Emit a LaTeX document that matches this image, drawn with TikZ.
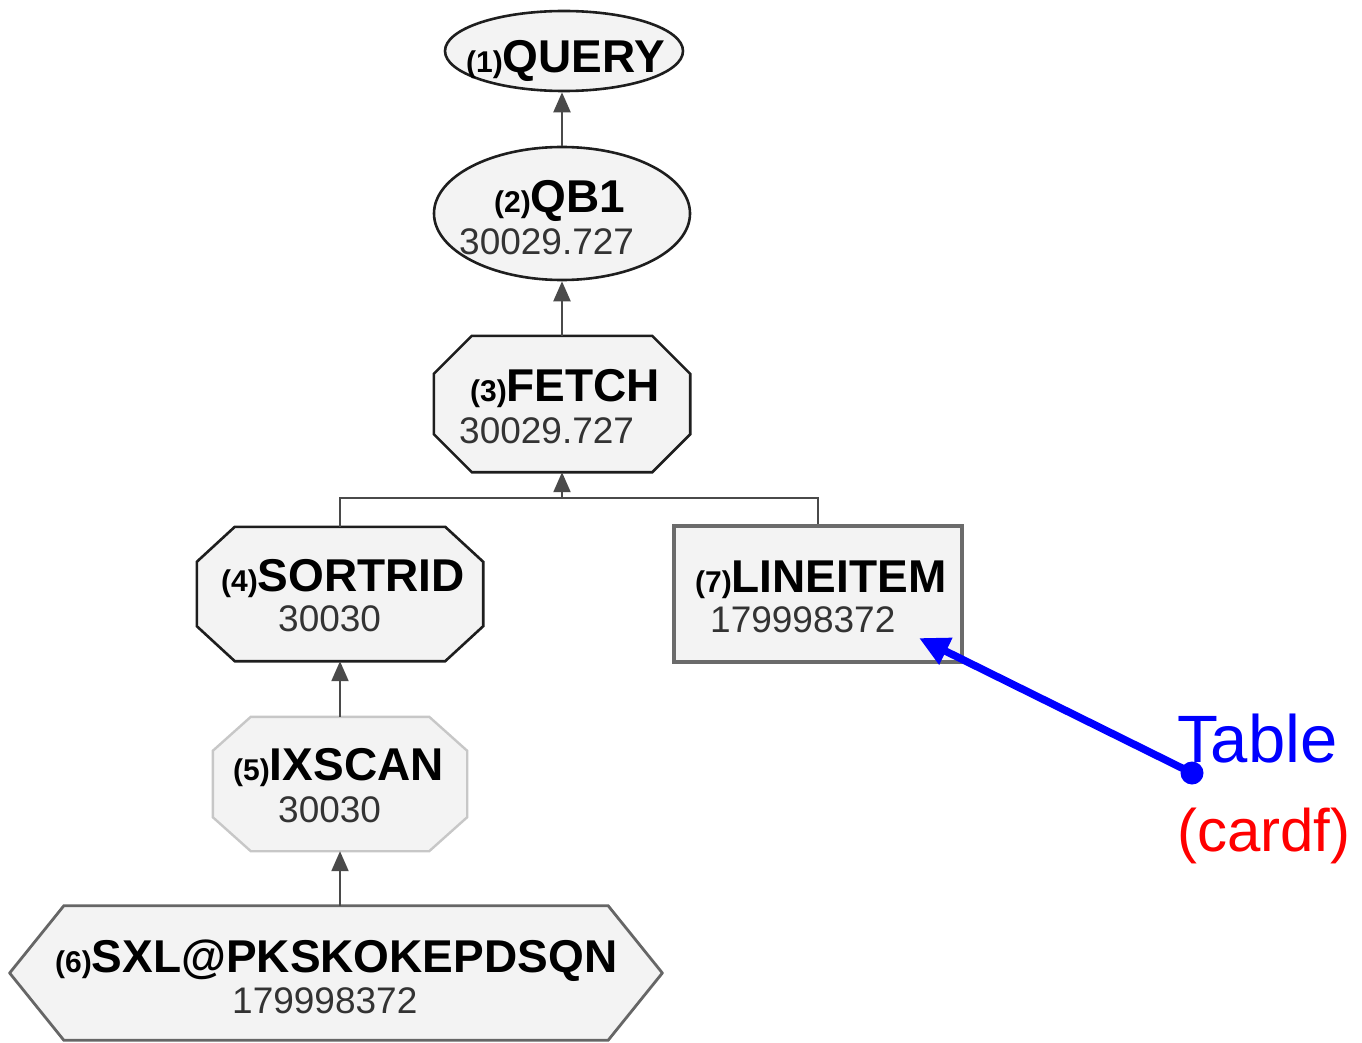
\documentclass[tikz,border=0pt]{standalone}
\usepackage{fontspec}
\setmainfont{Liberation Sans}
\usetikzlibrary{arrows.meta,calc,shapes.geometric}

\definecolor{boxfill}{HTML}{F3F3F3}
\definecolor{edge}{HTML}{4A4A4A}
\definecolor{outline}{HTML}{1E1E1E}
\definecolor{tblue}{HTML}{0000FF}
\definecolor{tred}{HTML}{FF0000}

% outline with cut corners around a named frame node: #1 node, #2 x-cut, #3 y-cut, #4 style
\newcommand\cutbox[4]{%
  \path[#4] ([xshift=#2]#1.north west) -- ([xshift=-#2]#1.north east)
    -- ([yshift=-#3]#1.north east) -- ([yshift=#3]#1.south east)
    -- ([xshift=-#2]#1.south east) -- ([xshift=#2]#1.south west)
    -- ([yshift=#3]#1.south west) -- ([yshift=-#3]#1.north west) -- cycle;}

\begin{document}
\begin{tikzpicture}[x=1pt,y=-1pt,
  frame/.style={rectangle,inner sep=0pt,minimum width=#1},
  oval/.style={ellipse,draw=outline,line width=2.6pt,fill=boxfill,inner sep=0pt},
  optitle/.style={anchor=base west,inner sep=0pt,font=\bfseries\fontsize{46}{46}\selectfont},
  opnum/.style={anchor=base west,inner sep=0pt,text=black!80,font=\fontsize{37}{37}\selectfont},
  conn/.style={draw=edge,line width=2.2pt,-{Triangle[length=20pt,width=17pt]}},
  bus/.style={draw=edge,line width=2.2pt}
]
\newcommand\tagtxt[1]{{\fontsize{30}{30}\selectfont(#1)}}
\useasboundingbox (0,0) rectangle (1362,1043);

% operator shapes
\node[oval,minimum width=238pt,minimum height=80pt] (query) at (564,51) {};
\node[oval,minimum width=256pt,minimum height=133pt] (qb1) at (562,213.5) {};

\node[frame=256pt,minimum height=136pt] (fetch) at (562,404) {};
\cutbox{fetch}{38}{38}{fill=boxfill,draw=outline,line width=2.6pt}

\node[frame=286pt,minimum height=134pt] (sortrid) at (340,594) {};
\cutbox{sortrid}{38}{35}{fill=boxfill,draw=outline,line width=2.6pt}

\node[frame=254pt,minimum height=134pt] (ixscan) at (340,784) {};
\cutbox{ixscan}{38}{34}{fill=boxfill,draw=black!22,line width=2.4pt}

\node[frame=652pt,minimum height=134pt] (sxl) at (336,973) {};
\cutbox{sxl}{54}{67}{fill=boxfill,draw=black!60,line width=2.8pt}

\node[frame=288pt,minimum height=136pt,draw=black!58,line width=3.8pt,fill=boxfill] (lineitem) at (818,594) {};

% labels
\node[optitle] (l1) at (466,73) {\tagtxt{1}QUERY};
\node[optitle] (l2) at (494,212) {\tagtxt{2}QB1};
\node[opnum]   (n2) at (459,254) {30029.727};
\node[optitle] (l3) at (470,401) {\tagtxt{3}FETCH};
\node[opnum]   (n3) at (459,443) {30029.727};
\node[optitle] (l4) at (221,591) {\tagtxt{4}SORTRID};
\node[opnum]   (n4) at (278,631) {30030};
\node[optitle] (l7) at (695,592) {\tagtxt{7}LINEITEM};
\node[opnum]   (n7) at (710,632) {179998372};
\node[optitle] (l5) at (233,780) {\tagtxt{5}IXSCAN};
\node[opnum]   (n5) at (278,822) {30030};
\node[optitle] (l6) at (55,972) {\tagtxt{6}SXL@PKSKOKEPDSQN};
\node[opnum]   (n6) at (232,1013) {179998372};

% plan edges
\draw[conn] (qb1.north) -- (qb1.north |- query.south);
\draw[conn] (fetch.north) -- (qb1.south);
\coordinate (join) at ($(fetch.south)+(0,26)$);
\draw[bus] (sortrid.north) |- (join) -| (lineitem.north);
\draw[conn] (join) -- (fetch.south);
\draw[conn] (ixscan.north) -- (sortrid.south);
\draw[conn] (ixscan.south |- sxl.north) -- (ixscan.south);

% annotation
\node[anchor=base west,inner sep=0pt,text=tblue,font=\fontsize{67}{67}\selectfont] (table) at (1177,762) {Table};
\node[anchor=base west,inner sep=0pt,text=tred,font=\fontsize{60}{60}\selectfont] (cardf) at (1177,851) {(cardf)};
\coordinate (dot) at (1192,773);
\coordinate (tip) at (919,638);
\draw[tblue,line width=7.5pt,-{Triangle[length=30pt,width=28pt]}] (dot) -- (tip);
\fill[tblue] (dot) circle[radius=11.5pt];
\end{tikzpicture}
\end{document}
